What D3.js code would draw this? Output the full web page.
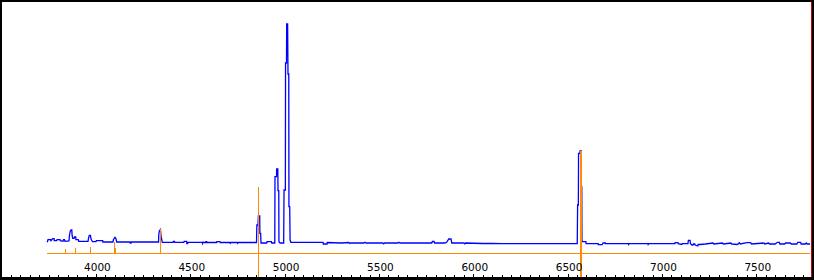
<!DOCTYPE html>
<html><head><meta charset="utf-8">
<script src="https://cdn.jsdelivr.net/npm/d3@7"></script>
<style>html,body{margin:0;padding:0;background:#fff;overflow:hidden}</style>
</head><body>
<svg id="c" width="814" height="280"></svg>
<script>
// Observed spectrum (wavelength in Å, relative flux)
const waves = [3742,3746,3760,3762,3771,3778,3779,3792,3794,3810,3811,3825,3828,3833,3836,3857,3860,3864,3868,3872,3874,3877,3884,3886,3893,3894,3906,3909,3958,3961,3965,3971,3974,3979,3982,4000,4002,4036,4037,4090,4093,4101,4106,4110,4181,4182,4186,4188,4332,4333,4336,4342,4345,4349,4352,4409,4410,4416,4417,4466,4468,4481,4482,4486,4488,4564,4565,4567,4582,4583,4587,4588,4640,4641,4657,4659,4710,4712,4715,4749,4751,4754,4851,4853,4859,4861,4868,4869,4873,4875,4905,4907,4930,4932,4948,4949,4957,4958,4964,4965,4969,4970,4976,4995,4997,5004,5005,5010,5011,5016,5018,5022,5023,5027,5029,5033,5204,5205,5225,5226,5300,5340,5345,5350,5420,5425,5432,5520,5525,5530,5600,5605,5612,5700,5780,5783,5792,5795,5850,5860,5870,5882,5886,5950,5955,5960,6050,6100,6150,6551,6553,6557,6558,6565,6566,6572,6573,6575,6576,6578,6597,6598,6662,6663,6683,6688,6700,6701,6822,6823,6826,6926,6927,6930,7069,7070,7085,7086,7105,7108,7138,7140,7149,7151,7159,7165,7167,7174,7176,7190,7192,7201,7230,7270,7275,7320,7325,7365,7370,7400,7410,7415,7450,7470,7475,7540,7545,7565,7570,7600,7612,7622,7625,7650,7655,7680,7685,7715,7720,7735,7738,7760,7765,7770,7785];
const flux = [1.07,1.33,1.33,1.23,1.43,1.43,1.23,1.23,1.33,1.33,1.23,1.17,1.33,1.33,1.17,1.2,1.8,2.2,2.3,2.3,1.7,1.47,1.47,1.6,1.6,1.33,1.33,1.17,1.17,1.5,1.77,1.77,1.4,1.23,1.13,1.13,1.23,1.23,1.1,1.1,1.35,1.57,1.45,1.1,1.1,1.0,1.0,1.1,1.1,1.8,2.2,2.35,1.7,1.3,1.07,1.07,1.17,1.17,1.07,1.07,1.17,1.17,0.93,0.93,1.07,1.07,0.97,1.07,1.05,1.13,1.13,1.05,1.05,1.13,1.13,1.05,1.05,0.97,1.05,1.05,0.97,1.05,1.05,2.8,2.8,3.7,3.7,1.97,1.97,1.0,1.0,1.13,1.13,1.0,1.0,7.63,7.63,8.4,8.4,6.23,6.23,1.13,1.0,1.0,6.3,6.3,19.0,19.0,22.9,22.9,17.9,17.9,4.63,4.63,1.3,1.07,1.07,0.9,0.9,1.05,1.0,1.05,0.95,1.0,1.0,1.08,1.0,1.0,0.92,1.0,1.0,1.08,1.0,1.0,1.0,1.15,1.15,1.0,1.0,1.1,1.4,1.4,1.0,1.0,0.92,1.0,0.95,0.95,0.93,0.93,4.8,4.8,9.97,9.97,10.2,10.2,6.63,6.63,1.3,1.13,1.13,0.93,0.93,0.83,0.83,1.0,1.0,0.93,0.93,0.85,0.93,0.93,0.85,0.93,0.93,1.03,1.03,0.93,0.85,0.93,0.93,1.27,1.27,0.95,0.8,0.8,0.9,0.9,0.8,0.7,0.85,0.85,0.9,1.0,0.9,1.0,0.9,1.0,0.9,0.85,1.03,0.9,1.03,1.03,0.9,1.0,0.9,1.0,0.9,0.9,1.07,1.07,0.9,0.9,1.0,1.0,0.9,0.9,1.07,1.07,0.9,0.9,1.0,0.9,0.9];

// Line markers (template lines): wavelength, top and bottom in flux units
const markerWaves  = [3835,3889,3966,3970,4097,4102,4340,4861,6563];
const markerTop    = [0.4,0.53,0.37,0.6,1.15,0.47,2.37,6.6,10.2];
const markerBottom = [0,0,0,0,0,0,0,-2.4,-2.4];
const markerBaseRange = [3741, 7785];

// Axis ticks
const majorTicks = [4000,4500,5000,5500,6000,6500,7000,7500];
const minorTicks = d3.range(3550, 7800, 50);

const svg = d3.select("#c");
const W = 814, H = 280;
const x = d3.scaleLinear().domain([3500, 7790]).range([1.6, 811]);
const y = d3.scaleLinear().domain([0, 23]).range([253, 23]);

svg.append("rect").attr("x",0).attr("y",0).attr("width",W).attr("height",H).attr("fill","#fff");

// spectrum
const pts = waves.map((w,i)=>[w, flux[i]]);
svg.append("path").datum(pts)
  .attr("d", d3.line().x(d=>x(d[0])).y(d=>y(d[1])))
  .attr("fill","none").attr("stroke","#0000ff").attr("stroke-width",1.3)
  .attr("stroke-linejoin","miter");

// marker baseline
svg.append("line")
  .attr("x1", x(markerBaseRange[0])).attr("x2", x(markerBaseRange[1]))
  .attr("y1", Math.round(y(0))+0.5).attr("y2", Math.round(y(0))+0.5)
  .attr("stroke","#ff8c00").attr("stroke-width",1)
  .attr("shape-rendering","crispEdges");

// markers
svg.append("g").selectAll("line").data(markerWaves).join("line")
  .attr("x1", d=>Math.round(x(d))+0.5).attr("x2", d=>Math.round(x(d))+0.5)
  .attr("y1", (d,i)=>y(markerBottom[i])).attr("y2", (d,i)=>y(markerTop[i]))
  .attr("stroke","#ff8c00").attr("stroke-width",(d,i)=>markerTop[i]>8?2:1)
  .attr("shape-rendering","crispEdges");

// red right line
svg.append("line").attr("x1",811.5).attr("x2",811.5).attr("y1",0).attr("y2",H)
  .attr("stroke","#cc0000").attr("stroke-width",1);

// axes
const axisY = 277;
const gMinor = svg.append("g").attr("transform",`translate(0,${axisY})`)
  .call(d3.axisBottom(x).tickValues(minorTicks).tickSize(-2).tickFormat(""));
gMinor.select(".domain").remove();
const gMajor = svg.append("g").attr("transform",`translate(0,${axisY})`)
  .call(d3.axisBottom(x).tickValues(majorTicks).tickSizeInner(-3).tickSizeOuter(0).tickPadding(-13).tickFormat(d3.format("d")));
gMajor.select(".domain").remove();
gMajor.selectAll("text").attr("font-family","DejaVu Sans").attr("font-size","10.5px").attr("fill","#000").attr("dx","1");
svg.selectAll(".tick line").attr("stroke","#000").attr("shape-rendering","crispEdges");

// border
svg.append("rect").attr("x",0).attr("y",0).attr("width",W).attr("height",2).attr("fill","#000");
svg.append("rect").attr("x",0).attr("y",0).attr("width",2).attr("height",H).attr("fill","#000");
svg.append("rect").attr("x",W-2).attr("y",0).attr("width",2).attr("height",H).attr("fill","#000");
svg.append("rect").attr("x",0).attr("y",axisY).attr("width",W).attr("height",H-axisY).attr("fill","#000");
</script>
</body></html>
